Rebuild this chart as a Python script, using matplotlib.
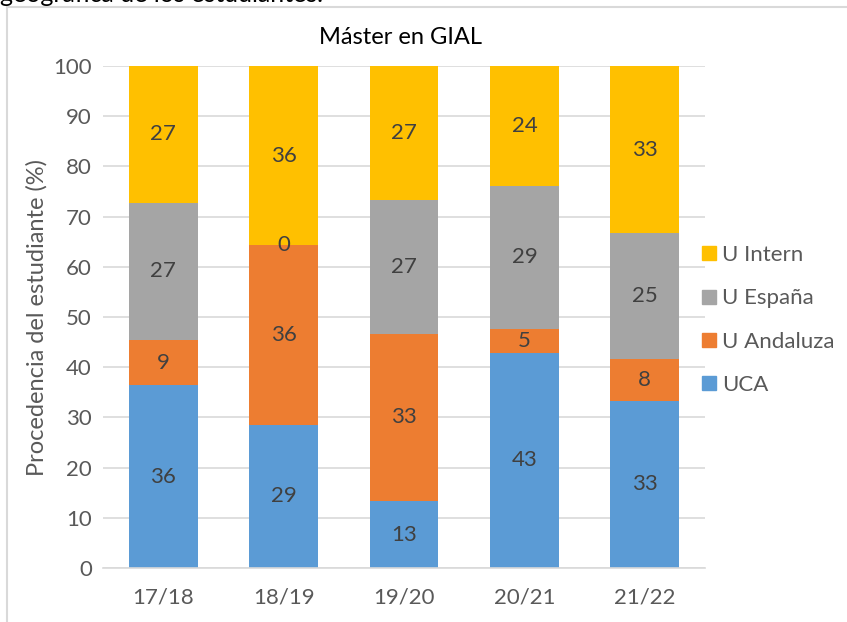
import matplotlib
matplotlib.use("Agg")
import matplotlib.pyplot as plt
from matplotlib.lines import Line2D
import numpy as np

plt.rcParams['font.family'] = ['Lato', 'DejaVu Sans']

years = ["17/18", "18/19", "19/20", "20/21", "21/22"]
series_names = ["UCA", "U Andaluza", "U España", "U Intern"]
uca = [36.36, 28.57, 13.33, 42.86, 33.33]
andaluza = [9.09, 35.71, 33.33, 4.76, 8.33]
espana = [27.27, 0.0, 26.67, 28.57, 25.0]
intern = [27.27, 35.71, 26.67, 23.81, 33.33]
colors = ["#5B9BD5", "#ED7D31", "#A5A5A5", "#FFC000"]

W, H = 847, 622
fig = plt.figure(figsize=(W / 100, H / 100), dpi=100)
ax = fig.add_axes([103 / W, 1 - 568 / H, (705 - 103) / W, (568 - 66) / H])

txt = "#595959"
x = np.arange(len(years))
bottom = np.zeros(len(years))
for vals, col in zip([uca, andaluza, espana, intern], colors):
    v = np.array(vals)
    ax.bar(x, v, width=0.57, bottom=bottom, color=col, zorder=3)
    for xi, b, h in zip(x, bottom, v):
        ax.text(xi, b + h / 2, f"{h:.0f}", ha="center", va="center",
                fontsize=16, color="#404040", zorder=4)
    bottom += v

ax.set_xlim(-0.5, len(years) - 0.5)
ax.set_ylim(0, 100)
ax.set_yticks(range(0, 101, 10))
ax.set_xticks(x)
ax.set_xticklabels(years)
ax.tick_params(axis="both", length=0, labelsize=16, colors=txt)
ax.tick_params(axis="y", pad=8)
ax.tick_params(axis="x", pad=14)
ax.grid(axis="y", color="#D9D9D9", linewidth=1.2, zorder=0)
for s in ["top", "right", "left"]:
    ax.spines[s].set_visible(False)
ax.spines["bottom"].set_color("#D9D9D9")
ax.spines["bottom"].set_linewidth(1.2)
ax.spines["bottom"].set_zorder(5)

ax.set_ylabel("Procedencia del estudiante (%)", fontsize=17, color=txt, labelpad=4)
fig.text(400 / W, 1 - 37 / H, "Máster en GIAL", ha="center", va="center",
         fontsize=17, color="black")

handles = [Line2D([], [], marker="s", linestyle="none", markersize=10,
                  markerfacecolor=c, markeredgecolor=c) for c in colors[::-1]]
fig.legend(handles, series_names[::-1], loc="center left",
           bbox_to_anchor=(678 / W, 1 - 320 / H), frameon=False,
           fontsize=16, labelcolor=txt, labelspacing=1.05, handletextpad=0.1,
           handlelength=1.0)

# top caption fragment and frame
fig.text(0.0, 1 - 2 / H, "geográfica de los estudiantes.", ha="left",
         va="baseline", fontsize=18, color="black")
fig.add_artist(Line2D([7 / W, 1], [1 - 7 / H, 1 - 7 / H], color="#D9D9D9",
                      linewidth=1.5, transform=fig.transFigure))
fig.add_artist(Line2D([7 / W, 7 / W], [0, 1 - 7 / H], color="#D9D9D9",
                      linewidth=1.5, transform=fig.transFigure))

fig.savefig("out.png", dpi=100)
